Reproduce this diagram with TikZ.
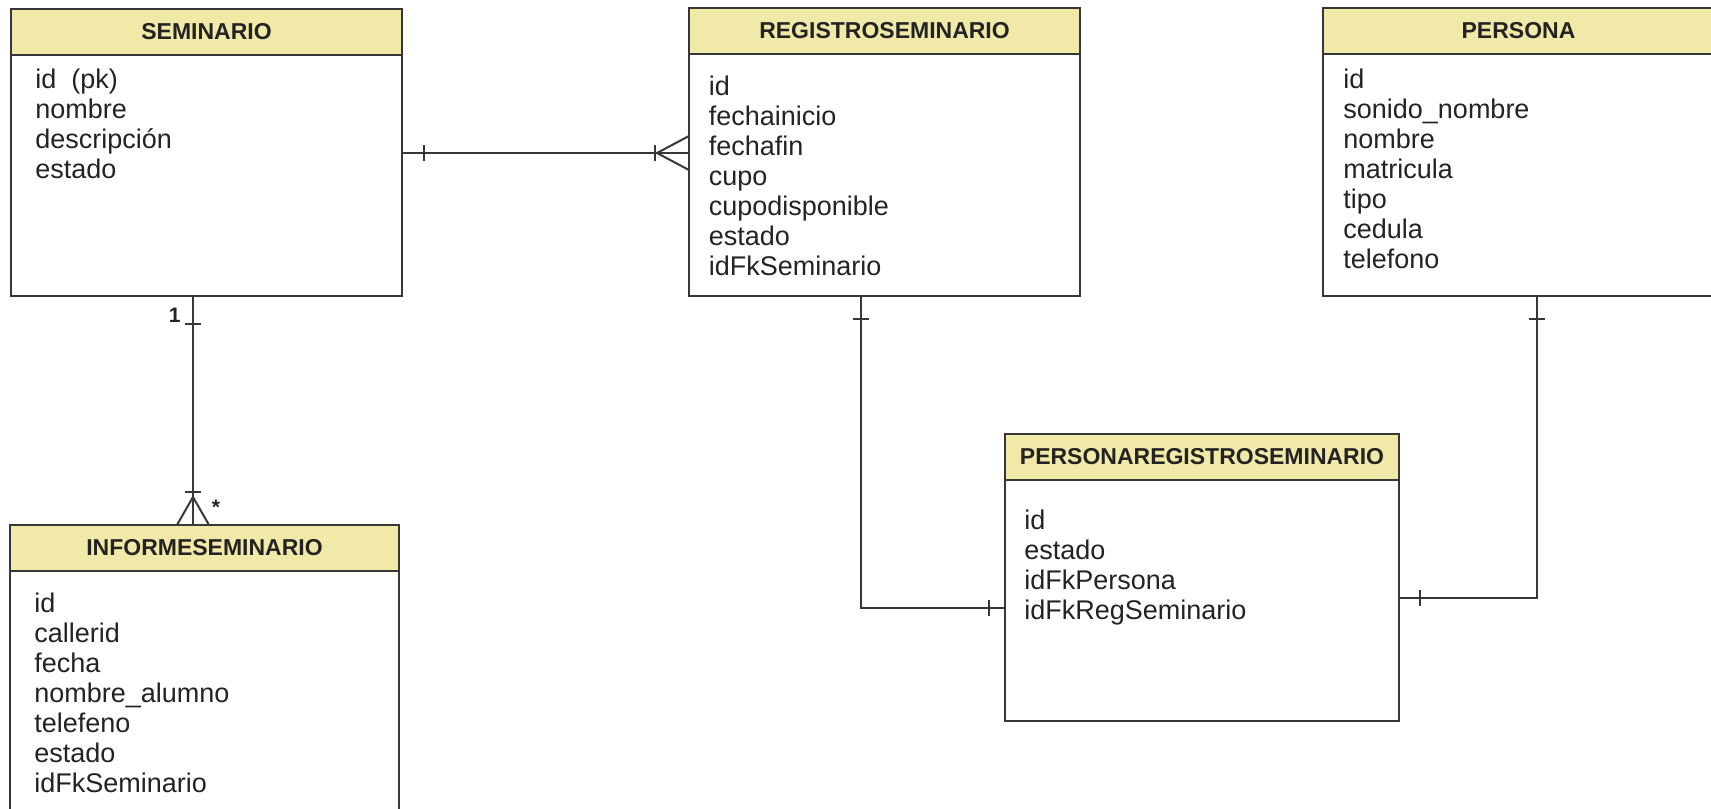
\documentclass[tikz,border=0pt]{standalone}
\usepackage{fontspec}
\setmainfont{Liberation Sans}
\definecolor{headfill}{RGB}{241,233,168}
\definecolor{linegray}{RGB}{55,55,55}
\definecolor{textgray}{RGB}{35,35,35}

\begin{document}
\begin{tikzpicture}[x=0.5pt, y=-0.5pt,
    head/.style={draw=linegray, fill=headfill, line width=1pt, anchor=north west, outer sep=0pt, inner sep=0pt, minimum width=195.5pt, minimum height=23pt, text=textgray, font=\bfseries\fontsize{11.5}{13}\selectfont},
    body/.style={draw=linegray, line width=1pt, anchor=north, outer sep=0pt, inner sep=0pt, minimum width=195.5pt},
    fields/.style={anchor=north west, align=left, inner sep=0pt, text=textgray, font=\fontsize{13.5}{15}\selectfont},
    rel/.style={draw=linegray, line width=1pt},
    mult/.style={inner sep=0pt, text=textgray, font=\bfseries\fontsize{10.5}{12}\selectfont}]
    \useasboundingbox (0, 0) rectangle (1711, 808);

    \node[head] (seminario) at (11, 9) {SEMINARIO};
    \node[body, minimum height=120.5pt] (seminariob) at (seminario.south) {};
    \node[fields] (seminariof) at ([shift={(24, 13.5)}]seminariob.north west) {id\ \ (pk)\\nombre\\descripción\\estado};

    \node[head] (registro) at (689, 8) {REGISTROSEMINARIO};
    \node[body, minimum height=121pt] (registrob) at (registro.south) {};
    \node[fields] (registrof) at ([shift={(19.5, 21.5)}]registrob.north west) {id\\fechainicio\\fechafin\\cupo\\cupodisponible\\estado\\idFkSeminario};

    \node[head] (persona) at (1323, 8) {PERSONA};
    \node[body, minimum height=121pt] (personab) at (persona.south) {};
    \node[fields] (personaf) at ([shift={(20, 14.5)}]personab.north west) {id\\sonido\_nombre\\nombre\\matricula\\tipo\\cedula\\telefono};

    \node[head, minimum width=194.5pt] (informe) at (10, 525) {INFORMESEMINARIO};
    \node[body, minimum width=194.5pt, minimum height=130pt] (informeb) at (informe.south) {};
    \node[fields] (informef) at ([shift={(24, 21.5)}]informeb.north west) {id\\callerid\\fecha\\nombre\_alumno\\telefeno\\estado\\idFkSeminario};

    \node[head, minimum width=197pt] (perreg) at (1005, 434) {PERSONAREGISTROSEMINARIO};
    \node[body, minimum width=197pt, minimum height=120.5pt] (perregb) at (perreg.south) {};
    \node[fields] (perregf) at ([shift={(19, 29.5)}]perregb.north west) {id\\estado\\idFkPersona\\idFkRegSeminario};

    % seminario - registroseminario
    \coordinate (sr1) at ([yshift=11.25pt]seminariob.east);
    \coordinate (sr2) at (sr1 -| registrob.west);
    \draw[rel] (sr1) -- (sr2);
    \draw[rel] ([xshift=11pt]sr1) +(0, -8) -- +(0, 8);
    \draw[rel] ([xshift=-17pt]sr2) +(0, -8) -- +(0, 8);
    \draw[rel] ([yshift=8.5pt]sr2) -- ([xshift=-16pt]sr2) -- ([yshift=-8.5pt]sr2);

    % seminario - informeseminario
    \coordinate (si1) at ([xshift=-6.75pt]seminariob.south);
    \coordinate (si2) at (si1 |- informe.north);
    \draw[rel] (si1) -- (si2);
    \draw[rel] ([yshift=-14pt]si1) +(-8, 0) -- +(8, 0);
    \node[mult, anchor=east] (one) at ([shift={(-6pt, -9.5pt)}]si1) {1};
    \draw[rel] ([yshift=16.5pt]si2) +(-8, 0) -- +(8, 0);
    \draw[rel] ([xshift=-8pt]si2) -- ([yshift=14pt]si2) -- ([xshift=8pt]si2);
    \node[mult] (many) at ([shift={(11.5pt, 9pt)}]si2) {*};

    % registroseminario - personaregistroseminario
    \coordinate (rp1) at ([xshift=-11.75pt]registrob.south);
    \coordinate (rp2) at ([yshift=-3.5pt]perregb.west);
    \draw[rel] (rp1) |- (rp2);
    \draw[rel] ([yshift=-11.5pt]rp1) +(-8, 0) -- +(8, 0);
    \draw[rel] ([xshift=-8pt]rp2) +(0, -8) -- +(0, 8);

    % persona - personaregistroseminario
    \coordinate (pp1) at ([xshift=9.25pt]personab.south);
    \coordinate (pp2) at ([yshift=1.5pt]perregb.east);
    \draw[rel] (pp1) |- (pp2);
    \draw[rel] ([yshift=-11.5pt]pp1) +(-8, 0) -- +(8, 0);
    \draw[rel] ([xshift=10.5pt]pp2) +(0, -8) -- +(0, 8);
\end{tikzpicture}
\end{document}
